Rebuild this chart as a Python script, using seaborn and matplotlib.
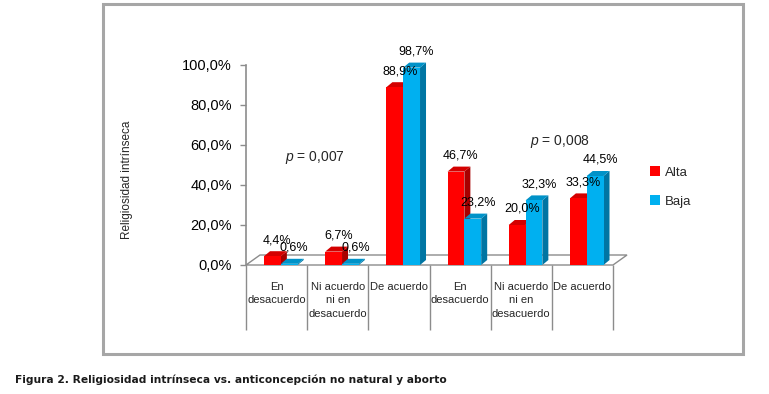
import matplotlib
matplotlib.use("Agg")
import matplotlib.pyplot as plt
import matplotlib.patches as mpatches
import numpy as np
import pandas as pd
import seaborn as sns

# ---- data ----
responses = ["En\ndesacuerdo", "Ni acuerdo\nni en\ndesacuerdo", "De acuerdo",
             "En\ndesacuerdo", "Ni acuerdo\nni en\ndesacuerdo", "De acuerdo"]
groups = ["Anticoncepción no natural"] * 3 + ["Aborto"] * 3
alta = [4.4, 6.7, 88.9, 46.7, 20.0, 33.3]
baja = [0.6, 0.6, 98.7, 23.2, 32.3, 44.5]
series_names = ["Alta", "Baja"]
yticks = [0, 20, 40, 60, 80, 100]
p_texts = ["0,007", "0,008"]

sns.set_theme(style="white")
plt.rcParams['font.family'] = ['Liberation Sans', 'DejaVu Sans']
plt.rcParams['mathtext.fontset'] = 'custom'
plt.rcParams['mathtext.it'] = 'Liberation Sans:italic'
plt.rcParams['mathtext.rm'] = 'Liberation Sans'

keys = [f"{g}|{i}" for i, g in enumerate(groups)]
df = pd.DataFrame({
    "key": keys * 2,
    "value": alta + baja,
    "serie": [series_names[0]] * len(alta) + [series_names[1]] * len(baja),
})

W, H = 769, 394
fig = plt.figure(figsize=(W / 100, H / 100), dpi=100)
ax = fig.add_axes([246 / W, 1 - 265 / H, (613 - 246) / W, 200 / H])

front = {"Alta": "#FF0000", "Baja": "#00B0F0"}
side = {"Alta": "#A80000", "Baja": "#0075A3"}
top = {"Alta": "#D40000", "Baja": "#0092C8"}

sns.barplot(data=df, x="key", y="value", hue="serie", order=keys,
            hue_order=series_names, palette=front, width=0.55, gap=0,
            saturation=1, ax=ax, zorder=3, linewidth=0)

ax.set_xlim(-0.5, len(keys) - 0.5)
ax.set_ylim(0, 100)
ax.set_yticks(yticks)
ax.set_yticklabels([f"{v:.1f}".replace(".", ",") + "%" for v in yticks], fontsize=10.5, color="#000000")
ax.set_xticks(range(len(keys)))
ax.set_xticklabels(responses, fontsize=8, linespacing=1.45)
ax.tick_params(axis="x", length=0, pad=12)
ax.tick_params(axis="y", length=4, width=1, color="#8c8c8c", pad=6, left=True, direction="out")
for s in ["top", "right", "bottom"]:
    ax.spines[s].set_visible(False)
ax.spines["left"].set_color("#8c8c8c")
ax.spines["left"].set_linewidth(1.2)
ax.set_xlabel("")
ax.set_ylabel("")
ax.patch.set_alpha(0)

fig.canvas.draw()
shift = 0.07
tdata = ax.transData
inv = tdata.inverted()

def disp(pts):
    return tdata.transform(pts)

def todata(pts):
    return inv.transform(pts)

# floor
D = np.array([14, 10])
f0 = disp([(-0.5, 0), (len(keys) - 0.5, 0)])
floor = np.array([f0[0], f0[1], f0[1] + D, f0[0] + D])
ax.add_patch(mpatches.Polygon(todata(floor), closed=True, facecolor="white",
                              edgecolor="#8c8c8c", linewidth=1, zorder=1, clip_on=False))

d = np.array([6, 5])
bars = [p for p in ax.patches if isinstance(p, mpatches.Rectangle) and p.get_height() > 0 and p.get_width() < 1]
for p in bars:
    p.set_x(p.get_x() + shift)
    col = p.get_facecolor()
    name = "Alta" if np.allclose(col[:3], matplotlib.colors.to_rgb(front["Alta"])) else "Baja"
    x0, w, h = p.get_x(), p.get_width(), p.get_height()
    a = disp([(x0, h), (x0 + w, h), (x0 + w, 0)])
    topf = np.array([a[0], a[1], a[1] + d, a[0] + d])
    sidef = np.array([a[2], a[1], a[1] + d, a[2] + d])
    ax.add_patch(mpatches.Polygon(todata(sidef), closed=True, facecolor=side[name],
                                  edgecolor="none", zorder=2.9, clip_on=False))
    ax.add_patch(mpatches.Polygon(todata(topf), closed=True, facecolor=top[name],
                                  edgecolor="none", zorder=2.9, clip_on=False))
    lab = f"{h:.1f}".replace(".", ",") + "%"
    c = disp([(x0 + w / 2, h)])[0] + np.array([5, 16])
    lx, ly = todata([c])[0]
    ax.text(lx, ly, lab, ha="center", va="center", fontsize=9, color="#000000",
            zorder=5, clip_on=False)

# category separators below floor
ax.vlines([i - 0.5 for i in range(len(keys) + 1)], 0, -32.5, colors="#8c8c8c",
          linewidth=1, clip_on=False, zorder=1)

# p values
ax.text(0.63, 53.5, r"$p$ = " + p_texts[0], ha="center", va="center", fontsize=10)
ax.text(4.63, 61.5, r"$p$ = " + p_texts[1], ha="center", va="center", fontsize=10)

# legend
sns.move_legend(ax, "center left", bbox_to_anchor=(638 / W, 1 - 187 / H),
                bbox_transform=fig.transFigure, frameon=False, title=None,
                handlelength=0.75, handleheight=0.75, labelspacing=1.25,
                handletextpad=0.4, fontsize=9.5)

# y label
fig.text(127 / W, 1 - 180 / H, "Religiosidad intrínseca", rotation=90,
         ha="center", va="center", fontsize=8.5)

# outer box
fig.patches.append(mpatches.Rectangle((103 / W, 1 - 354 / H), (743 - 103) / W, (354 - 4) / H,
                                      transform=fig.transFigure, fill=False,
                                      edgecolor="#a6a6a6", linewidth=2.2, figure=fig))

fig.text(15 / W, 1 - 380 / H,
         "Figura 2. Religiosidad intrínseca vs. anticoncepción no natural y aborto",
         ha="left", va="center", fontsize=7.7, fontweight="bold",
         family=["DejaVu Sans"], color="#1a1a1a")

fig.savefig("out.png", dpi=100)
